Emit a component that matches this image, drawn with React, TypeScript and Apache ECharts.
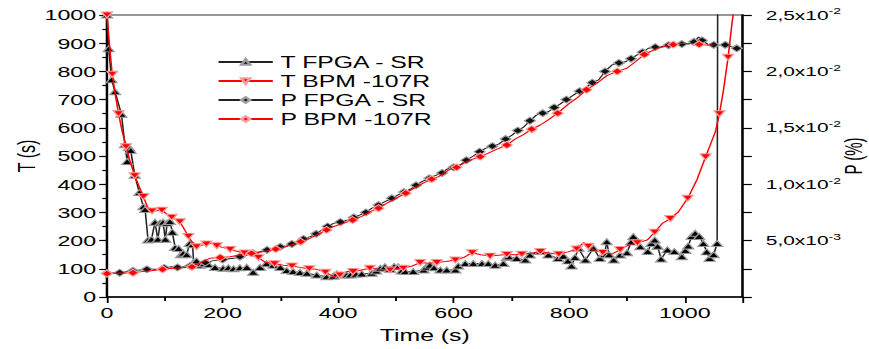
import React, { useEffect, useRef } from 'react';
import * as echarts from 'echarts';

// ---------- data ----------
// T FPGA - SR (left axis, seconds)
const tFpgaTime = [0, 3, 8, 14, 25, 31, 35, 38, 41, 48, 56, 63, 66, 71, 77, 83, 88, 92, 97, 101, 104, 109, 113, 118, 124, 128, 132, 138, 143, 148, 150, 155, 161, 168, 175, 187, 201, 210, 219, 230, 242, 253, 265, 276, 288, 300, 311, 322, 334, 346, 363, 380, 392, 398, 405, 415, 421, 431, 441, 458, 466, 473, 481, 490, 497, 504, 510, 516, 530, 548, 553, 559, 566, 577, 588, 603, 608, 620, 634, 649, 660, 672, 686, 692, 695, 709, 724, 732, 750, 764, 781, 790, 798, 804, 810, 816, 828, 842, 853, 861, 865, 869, 877, 888, 900, 907, 911, 923, 936, 942, 948, 953, 959, 970, 982, 995, 1001, 1006, 1012, 1018, 1025, 1032, 1038, 1043, 1050, 1056, 1057];
const tFpgaValue = [1000, 880, 770, 728, 648, 540, 480, 530, 520, 432, 370, 320, 310, 202, 205, 265, 205, 262, 265, 205, 262, 268, 230, 175, 172, 150, 155, 150, 190, 185, 122, 128, 113, 118, 115, 105, 102, 104, 100, 104, 105, 88, 105, 118, 113, 105, 94, 90, 87, 84, 78, 72, 74, 82, 78, 78, 78, 81, 82, 84, 92, 102, 107, 98, 108, 107, 92, 90, 90, 96, 106, 113, 104, 96, 96, 96, 110, 119, 119, 119, 119, 113, 119, 140, 143, 137, 131, 149, 161, 149, 137, 145, 128, 110, 140, 173, 131, 173, 137, 150, 196, 150, 131, 149, 157, 195, 214, 178, 161, 190, 202, 180, 135, 167, 161, 143, 165, 181, 215, 226, 215, 190, 160, 137, 150, 190, 1100];

// T BPM -107R (left axis, seconds)
const tBpmTime = [0, 4, 9, 14, 20, 26, 33, 40, 48, 56, 63, 70, 78, 86, 95, 103, 112, 119, 126, 134, 141, 148, 155, 163, 172, 181, 190, 200, 213, 225, 238, 250, 262, 274, 290, 305, 320, 334, 350, 363, 378, 392, 403, 415, 426, 440, 455, 470, 490, 500, 513, 528, 542, 557, 571, 587, 603, 617, 632, 647, 663, 677, 692, 705, 718, 733, 750, 765, 782, 798, 813, 825, 833, 842, 858, 874, 888, 903, 918, 935, 948, 961, 975, 989, 1005, 1021, 1036, 1053, 1060, 1067, 1075, 1082, 1086];
const tBpmValue = [1000, 900, 790, 722, 650, 590, 533, 480, 430, 390, 356, 320, 305, 306, 308, 295, 283, 275, 267, 240, 215, 192, 178, 183, 188, 190, 182, 176, 169, 162, 156, 152, 140, 123, 118, 113, 110, 105, 100, 98, 88, 72, 78, 90, 90, 96, 102, 98, 96, 100, 102, 110, 122, 120, 122, 126, 131, 140, 157, 150, 145, 148, 151, 150, 152, 155, 161, 156, 152, 160, 170, 193, 180, 167, 158, 152, 168, 184, 192, 202, 230, 261, 278, 302, 350, 415, 497, 586, 650, 734, 850, 976, 1030];

// P FPGA - SR (right axis, %)
const pFpgaTime = [0, 11, 22, 34, 45, 57, 69, 86, 99, 112, 122, 132, 144, 155, 170, 184, 200, 219, 230, 242, 253, 265, 277, 288, 300, 311, 320, 328, 340, 352, 362, 372, 382, 392, 404, 415, 427, 438, 448, 458, 470, 481, 493, 504, 514, 525, 535, 545, 558, 571, 580, 588, 600, 611, 622, 634, 645, 655, 667, 678, 690, 701, 711, 721, 732, 743, 754, 764, 774, 784, 795, 806, 818, 831, 840, 851, 862, 874, 886, 897, 907, 917, 927, 937, 949, 960, 972, 983, 995, 1006, 1016, 1024, 1030, 1040, 1050, 1060, 1070, 1080, 1090, 1098];
const pFpgaValue = [0.0021, 0.002125, 0.00215, 0.00225, 0.002325, 0.0024, 0.00245, 0.00245, 0.002575, 0.002675, 0.002625, 0.002675, 0.00275, 0.002825, 0.00305, 0.003225, 0.003325, 0.003425, 0.003575, 0.003725, 0.003875, 0.004025, 0.004175, 0.004325, 0.00445, 0.004525, 0.0047, 0.0049, 0.00515, 0.00535, 0.0056, 0.00595, 0.00625, 0.006525, 0.00665, 0.0068, 0.00705, 0.007275, 0.0075, 0.00785, 0.00815, 0.00845, 0.00875, 0.00905, 0.0093, 0.00955, 0.0099, 0.010225, 0.010525, 0.010825, 0.011, 0.011325, 0.0115, 0.0117, 0.012125, 0.0125, 0.012875, 0.013175, 0.013375, 0.01355, 0.014, 0.01435, 0.01475, 0.01505, 0.015625, 0.016125, 0.0163, 0.016425, 0.0168, 0.0171, 0.0175, 0.01785, 0.01825, 0.01865, 0.019, 0.01925, 0.02, 0.020575, 0.02075, 0.02085, 0.021125, 0.02145, 0.0217, 0.02205, 0.02215, 0.0222, 0.022325, 0.0225, 0.022425, 0.022425, 0.022625, 0.02305, 0.02275, 0.0224, 0.02235, 0.022325, 0.02235, 0.0222, 0.02205, 0.022];

// P BPM -107R (right axis, %)
const pBpmTime = [0, 15, 30, 45, 61, 77, 96, 115, 131, 147, 162, 178, 196, 213, 232, 250, 265, 279, 292, 305, 320, 335, 351, 365, 380, 395, 410, 425, 440, 455, 470, 486, 502, 517, 532, 548, 562, 574, 591, 605, 618, 632, 646, 660, 676, 692, 706, 720, 735, 750, 765, 780, 799, 813, 830, 848, 865, 883, 900, 915, 930, 952, 966, 980, 998, 1012, 1025, 1037, 1050];
const pBpmValue = [0.002075, 0.0021, 0.002125, 0.00215, 0.00225, 0.002325, 0.00245, 0.00255, 0.0026, 0.002675, 0.00305, 0.003425, 0.0035, 0.003575, 0.00375, 0.003875, 0.003975, 0.0041, 0.00425, 0.0044, 0.004625, 0.0049, 0.0052, 0.00555, 0.00595, 0.0063, 0.00655, 0.006825, 0.007125, 0.00755, 0.007875, 0.008375, 0.0088, 0.0092, 0.00965, 0.010125, 0.01045, 0.010675, 0.01125, 0.0115, 0.011875, 0.0122, 0.01245, 0.01275, 0.013125, 0.013475, 0.014, 0.014375, 0.014875, 0.01525, 0.01575, 0.0163, 0.017125, 0.017625, 0.018375, 0.01895, 0.019625, 0.02, 0.020275, 0.020875, 0.0215, 0.02205, 0.0222, 0.022375, 0.0225, 0.02245, 0.0224, 0.02235, 0.02235];

const seriesNames = ['T FPGA - SR', 'T BPM -107R', 'P FPGA - SR', 'P BPM -107R'];
const xAxisName = 'Time (s)';
const leftAxisName = 'T (s)';
const rightAxisName = 'P (%)';

// ---------- layout ----------
const S = 1.55; // horizontal stretch of the reference picture
const W = 869;
const H = 349;

function build(time: number[], vals: number[], every: number) {
  return time.map((t, i) => ({
    value: [t, vals[i]],
    symbol: i % every === 0 ? undefined : 'none',
  }));
}

function rightLabel(v: number): string {
  if (v <= 0) return '';
  const exp = v < 0.0099 ? -3 : -2;
  const mant = v / Math.pow(10, exp);
  return `{m|${mant.toFixed(1).replace('.', ',')}x10}{s|${exp}}`;
}

export default function App() {
  const ref = useRef<HTMLDivElement>(null);
  useEffect(() => {
    const chart = echarts.init(ref.current!, null, { renderer: 'svg' });
    const font = '"Liberation Sans", Arial, sans-serif';
    const axisLine = { show: true, lineStyle: { color: '#000', width: 1.5 } };
    const plain = (v: number) => String(v);
    chart.setOption({
      animation: false,
      textStyle: { fontFamily: font, color: '#000' },
      grid: {
        left: 107 / S,
        right: (W - 742) / S,
        top: 15,
        bottom: 52,
        show: true,
        borderColor: '#777',
        borderWidth: 1.5,
        containLabel: false,
        outerBoundsMode: 'none',
      },
      legend: {
        orient: 'vertical',
        left: 140,
        top: 54,
        padding: 0,
        itemWidth: 35,
        itemHeight: 7,
        itemGap: 3,
        data: seriesNames,
        textStyle: { fontSize: 16, fontFamily: font, color: '#000', lineHeight: 16, padding: [0, 0, 0, 0] },
      },
      xAxis: {
        type: 'value',
        min: 0,
        max: 1100,
        interval: 200,
        name: xAxisName,
        nameLocation: 'middle',
        nameGap: 30,
        nameMoveOverlap: false,
        nameTextStyle: { fontSize: 16, fontFamily: font, color: '#000' },
        axisLine,
        axisTick: { show: true, length: 6, lineStyle: { color: '#000', width: 1.2 } },
        minorTick: { show: true, splitNumber: 2, length: 4, lineStyle: { color: '#000', width: 1.2 } },
        splitLine: { show: false },
        axisLabel: { fontSize: 15, margin: 8, color: '#000', fontFamily: font, showMaxLabel: false, formatter: plain },
      },
      yAxis: [
        {
          type: 'value',
          position: 'left',
          min: 0,
          max: 1000,
          interval: 100,
          name: leftAxisName,
          nameLocation: 'middle',
          nameGap: 44,
          nameMoveOverlap: false,
          nameTextStyle: { fontSize: 16, fontFamily: font, color: '#000' },
          axisLine,
          axisTick: { show: true, length: 5, lineStyle: { color: '#000', width: 1.2 } },
          minorTick: { show: true, splitNumber: 2, length: 3, lineStyle: { color: '#000', width: 1.2 } },
          splitLine: { show: false },
          axisLabel: { fontSize: 15, margin: 7, color: '#000', fontFamily: font, formatter: plain },
        },
        {
          type: 'value',
          position: 'right',
          min: 0,
          max: 0.025,
          interval: 0.005,
          name: rightAxisName,
          nameLocation: 'middle',
          nameGap: 64,
          nameMoveOverlap: false,
          nameTextStyle: { fontSize: 15, fontFamily: font, color: '#000' },
          axisLine,
          axisTick: { show: true, length: 6, lineStyle: { color: '#000', width: 1.2 } },
          minorTick: { show: true, splitNumber: 2, length: 6, lineStyle: { color: '#000', width: 1.2 } },
          splitLine: { show: false },
          axisLabel: {
            margin: 15,
            color: '#000',
            formatter: rightLabel,
            rich: {
              m: { fontSize: 13.5, fontFamily: font, color: '#000' },
              s: { fontSize: 9, fontFamily: font, color: '#000', verticalAlign: 'top', padding: [0, 0, 8, 0] },
            },
          },
        },
      ],
      series: [
        {
          name: seriesNames[0],
          type: 'line',
          yAxisIndex: 0,
          data: build(tFpgaTime, tFpgaValue, 1),
          symbol: 'triangle',
          symbolSize: [7, 6],
          showAllSymbol: true,
          lineStyle: { color: '#222', width: 1 },
          itemStyle: { color: '#000', borderColor: '#9a9a9a', borderWidth: 1 },
          z: 3,
        },
        {
          name: seriesNames[1],
          type: 'line',
          yAxisIndex: 0,
          data: build(tBpmTime, tBpmValue, 2),
          symbol: 'triangle',
          symbolRotate: 180,
          symbolSize: [7, 6],
          showAllSymbol: true,
          lineStyle: { color: '#ff0000', width: 1 },
          itemStyle: { color: '#ff0000', borderColor: '#ff9a9a', borderWidth: 1 },
          z: 4,
        },
        {
          name: seriesNames[2],
          type: 'line',
          yAxisIndex: 1,
          data: build(pFpgaTime, pFpgaValue, 2),
          symbol: 'diamond',
          symbolSize: [7, 7],
          showAllSymbol: true,
          lineStyle: { color: '#222', width: 1 },
          itemStyle: { color: '#111', borderColor: '#a0a0a0', borderWidth: 1 },
          z: 3,
        },
        {
          name: seriesNames[3],
          type: 'line',
          yAxisIndex: 1,
          data: build(pBpmTime, pBpmValue, 3),
          symbol: 'diamond',
          symbolSize: [7, 7],
          showAllSymbol: true,
          lineStyle: { color: '#ff0000', width: 1 },
          itemStyle: { color: '#ff0000', borderColor: '#ffa0a0', borderWidth: 1 },
          z: 4,
        },
      ],
    });
    return () => chart.dispose();
  }, []);
  return (
    <div
      ref={ref}
      style={{
        position: 'absolute',
        left: 0,
        top: 0,
        width: W / S,
        height: H,
        transform: `scaleX(${S})`,
        transformOrigin: '0 0',
        background: '#fff',
      }}
    />
  );
}
